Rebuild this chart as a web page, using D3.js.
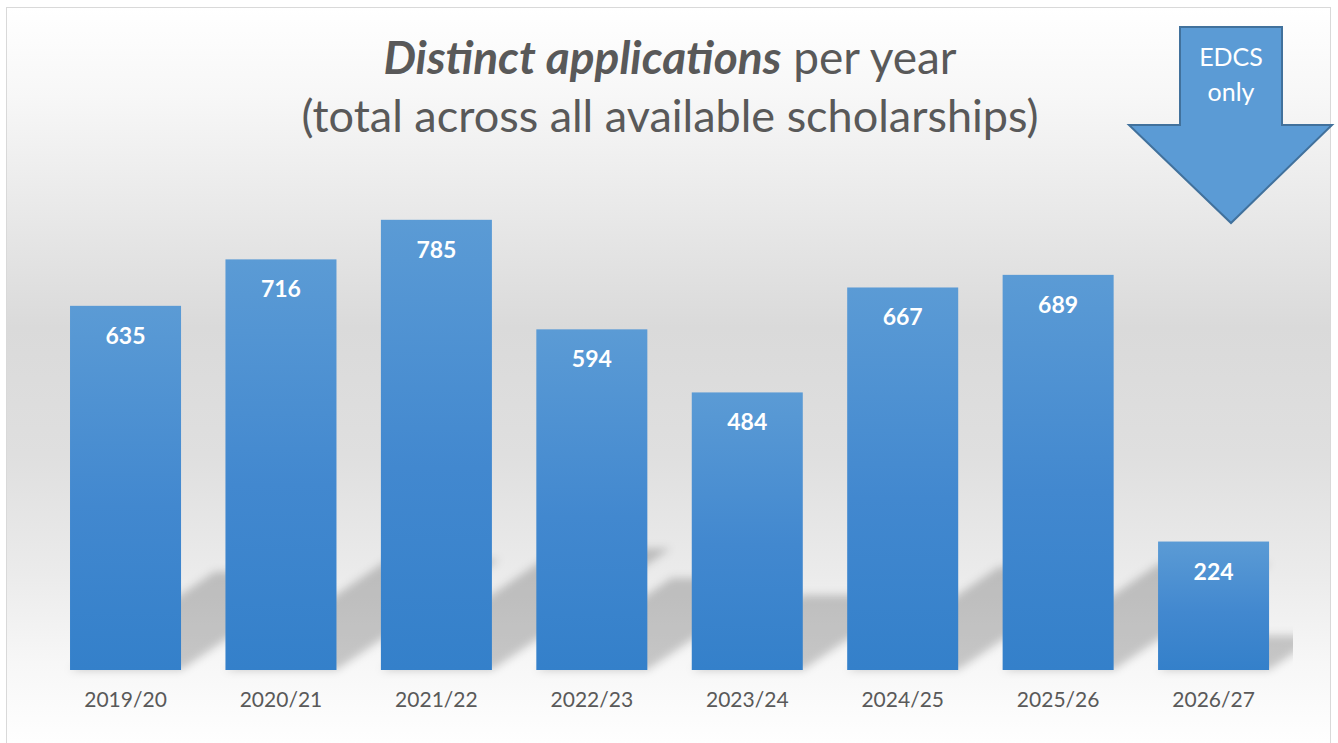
<!DOCTYPE html>
<html>
<head>
<meta charset="utf-8">
<script src="https://cdn.jsdelivr.net/npm/d3@7"></script>
<style>
  body { margin: 0; background: #fff; }
  text { font-family: Lato, "Open Sans", sans-serif; }
</style>
</head>
<body>
<script>
// chart values
var years = ["2019/20", "2020/21", "2021/22", "2022/23", "2023/24", "2024/25", "2025/26", "2026/27"];
var applications = [635, 716, 785, 594, 484, 667, 689, 224];
var titleBold = "Distinct applications";
var titleRest = " per year";
var subtitle = "(total across all available scholarships)";
var calloutLines = ["EDCS", "only"];

drawChart();

function drawChart(){
	var width = 1338,
		height = 743,
		baseY = 670;

	var svg = d3.select("body")
		.append("svg")
		.attr("width", width)
		.attr("height", height);

	var defs = svg.append("defs");

	// background: white -> grey -> white
	var bg = defs.append("linearGradient")
		.attr("id", "bgGrad")
		.attr("x1", 0).attr("y1", 0).attr("x2", 0).attr("y2", 1);
	[[0, "#ffffff"], [0.12, "#f7f7f7"], [0.27, "#e9e9e9"], [0.43, "#dadada"], [0.6, "#dfdfdf"], [0.76, "#ebebeb"], [0.88, "#f7f7f7"], [1, "#ffffff"]]
		.forEach(function(s){
			bg.append("stop").attr("offset", s[0]).attr("stop-color", s[1]);
		});

	var barGrad = defs.append("linearGradient")
		.attr("id", "barGrad")
		.attr("x1", 0).attr("y1", 0).attr("x2", 0).attr("y2", 1);
	barGrad.append("stop").attr("offset", 0).attr("stop-color", "#5b9bd5");
	barGrad.append("stop").attr("offset", 0.55).attr("stop-color", "#4288cf");
	barGrad.append("stop").attr("offset", 1).attr("stop-color", "#3480ca");

	defs.append("filter")
		.attr("id", "blur")
		.attr("x", "-20%").attr("y", "-20%").attr("width", "140%").attr("height", "140%")
		.append("feGaussianBlur")
		.attr("stdDeviation", 4);

	defs.append("clipPath")
		.attr("id", "plotClip")
		.append("rect")
		.attr("x", 40).attr("y", 100)
		.attr("width", 1253).attr("height", 580);

	svg.append("rect")
		.attr("x", 6.5).attr("y", 7.5)
		.attr("width", 1324).attr("height", 745)
		.attr("fill", "url(#bgGrad)")
		.attr("stroke", "#d9d9d9")
		.attr("stroke-width", 1);

	var x = d3.scaleBand()
		.domain(years)
		.range([47.8, 1291.3])
		.paddingInner(0.2858)
		.paddingOuter(0.143);

	var y = d3.scaleLinear()
		.domain([0, 900])
		.range([baseY, 153.85]);

	var data = years.map(function(d, i){ return {year: d, value: applications[i]}; });

	// perspective shadow leaning up to the right
	svg.append("g")
		.attr("clip-path", "url(#plotClip)")
		.append("g")
		.attr("filter", "url(#blur)")
		.selectAll(".shadow")
		.data(data)
		.enter()
		.append("polygon")
		.attr("class", "shadow")
		.attr("points", function(d){
			var x0 = x(d.year),
				x1 = x0 + x.bandwidth(),
				sh = (baseY - y(d.value)) * 0.27,
				dx = sh / 0.68;
			return [[x0, baseY], [x1, baseY], [x1 + dx, baseY - sh], [x0 + dx, baseY - sh]].join(" ");
		})
		.attr("fill", "#000")
		.attr("fill-opacity", 0.2);

	svg.selectAll(".bar")
		.data(data)
		.enter()
		.append("rect")
		.attr("class", "bar")
		.attr("x", function(d){ return x(d.year); })
		.attr("y", function(d){ return y(d.value); })
		.attr("width", x.bandwidth())
		.attr("height", function(d){ return baseY - y(d.value); })
		.attr("fill", "url(#barGrad)");

	svg.selectAll(".valueLabel")
		.data(data)
		.enter()
		.append("text")
		.attr("class", "valueLabel")
		.attr("x", function(d){ return x(d.year) + x.bandwidth() / 2; })
		.attr("y", function(d){ return y(d.value) + 38; })
		.attr("text-anchor", "middle")
		.attr("font-size", 23)
		.attr("font-weight", "bold")
		.attr("fill", "#fff")
		.text(function(d){ return d.value; });

	var xAxis = svg.append("g")
		.attr("transform", "translate(0," + baseY + ")")
		.call(d3.axisBottom(x).tickSize(0).tickPadding(22));
	xAxis.select(".domain").remove();
	xAxis.selectAll("text")
		.attr("font-family", "Lato, sans-serif")
		.attr("font-size", 21)
		.attr("fill", "#595959");

	// title
	var t1 = svg.append("text")
		.attr("x", 670)
		.attr("y", 74)
		.attr("text-anchor", "middle")
		.attr("font-size", 46)
		.attr("fill", "#595959");
	t1.append("tspan")
		.attr("font-weight", "bold")
		.attr("font-style", "italic")
		.text(titleBold);
	t1.append("tspan")
		.text(titleRest);

	svg.append("text")
		.attr("x", 670)
		.attr("y", 132)
		.attr("text-anchor", "middle")
		.attr("font-size", 45)
		.attr("fill", "#595959")
		.text(subtitle);

	// EDCS callout arrow
	var arrow = svg.append("g");
	arrow.append("polygon")
		.attr("points", [[1180, 27], [1282, 27], [1282, 125], [1332, 125], [1231, 223], [1129, 125], [1180, 125]].join(" "))
		.attr("fill", "#5b9bd5")
		.attr("stroke", "#41719c")
		.attr("stroke-width", 2);
	arrow.selectAll(".calloutText")
		.data(calloutLines)
		.enter()
		.append("text")
		.attr("class", "calloutText")
		.attr("x", 1231)
		.attr("y", function(d, i){ return 66 + i * 35; })
		.attr("text-anchor", "middle")
		.attr("font-size", 25)
		.attr("fill", "#fff")
		.text(function(d){ return d; });
}
</script>
</body>
</html>
